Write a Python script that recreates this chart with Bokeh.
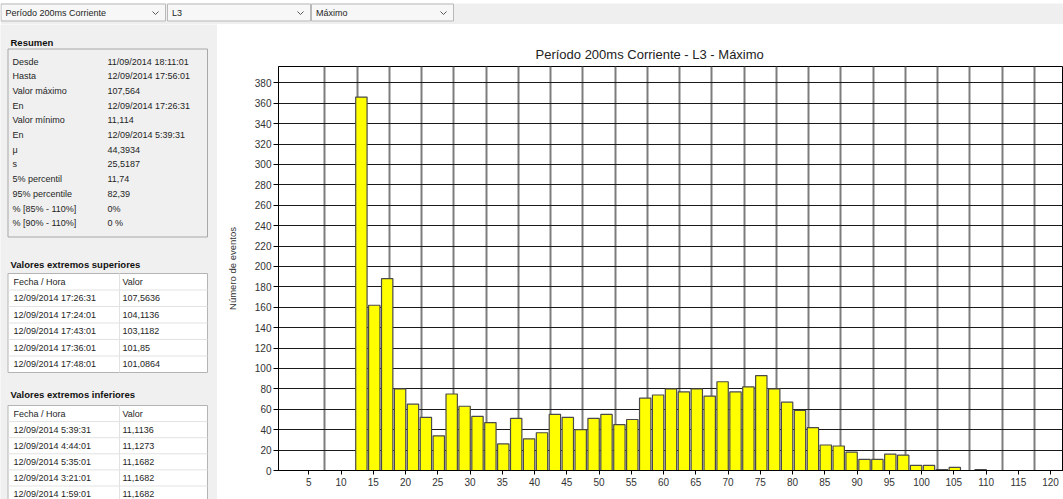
import numpy as np
from bokeh.plotting import figure
from bokeh.models import ColumnDataSource, Range1d, FixedTicker
from bokeh.layouts import column, row
from bokeh.embed import file_html
from bokeh.resources import INLINE
from bokeh.core.properties import value

# ---------------- data ----------------
bin_start = 12.15          # left edge of first histogram bin
bin_width = 2.0
counts = [366, 162, 188, 80, 65, 52, 34, 75, 63, 53, 47, 26, 51, 31, 37, 55, 52,
          40, 51, 55, 45, 50, 71, 74, 80, 77, 80, 73, 87, 77, 82, 93, 80, 67,
          59, 42, 25, 24, 18, 11, 11, 16, 15, 5, 5, 1, 3, 0, 1]
x_ticks = list(range(5, 125, 5))
y_ticks = list(range(0, 400, 20))
title_text = "Período 200ms Corriente  -  L3  -  Máximo"
y_label = "Número de eventos"

dropdown_texts = ["Período 200ms Corriente", "L3", "Máximo"]

summary_title = "Resumen"
summary_labels = ["Desde", "Hasta", "Valor máximo", "En", "Valor mínimo", "En",
                  "μ", "s", "5% percentil", "95% percentile",
                  "% [85% - 110%]", "% [90% - 110%]"]
summary_values = ["11/09/2014 18:11:01", "12/09/2014 17:56:01", "107,564",
                  "12/09/2014 17:26:31", "11,114", "12/09/2014 5:39:31",
                  "44,3934", "25,5187", "11,74", "82,39", "0%", "0 %"]

table_header = ["Fecha / Hora", "Valor"]
sup_title = "Valores extremos superiores"
sup_dates = ["12/09/2014 17:26:31", "12/09/2014 17:24:01", "12/09/2014 17:43:01",
             "12/09/2014 17:36:01", "12/09/2014 17:48:01"]
sup_values = ["107,5636", "104,1136", "103,1182", "101,85", "101,0864"]
inf_title = "Valores extremos inferiores"
inf_dates = ["12/09/2014 5:39:31", "12/09/2014 4:44:01", "12/09/2014 5:35:01",
             "12/09/2014 3:21:01", "12/09/2014 1:59:01"]
inf_values = ["11,1136", "11,1273", "11,1682", "11,1682", "11,1682"]

FONT = value("Liberation Sans")
TXT = "#1e1e1e"

# ---------------- top strip (dropdowns) ----------------
top = figure(width=1063, height=24, x_range=Range1d(0, 1063), y_range=Range1d(24, 0),
             output_backend="svg", toolbar_location=None, frame_align=False,
             x_axis_location=None, y_axis_location=None, min_border=0)
top.grid.visible = False
top.outline_line_color = None
top.background_fill_color = "white"
top.border_fill_color = "white"
top.quad(left=[0], right=[1063], top=[3], bottom=[24], fill_color="#efefef",
         line_color=None)
dd_left = [0.5, 167, 311]
dd_right = [165, 310, 453]
top.quad(left=dd_left, right=dd_right, top=[3.5] * 3, bottom=[20.5] * 3,
         fill_color="#f7f7f7", line_color="#b9b9b9", line_width=1)
top.text(x=[l + 4.5 for l in dd_left], y=[12.3] * 3, text=dropdown_texts,
         text_font=FONT, text_font_size=value("9px"), text_color=TXT,
         text_baseline="middle")
chev_x = [r - 10 for r in dd_right]
top.multi_line(xs=[[c - 3, c, c + 3] for c in chev_x], ys=[[11, 14, 11]] * 3,
               line_color="#555555", line_width=1)

# ---------------- left panel ----------------
panel = figure(width=217, height=475, x_range=Range1d(0, 217), y_range=Range1d(499, 24),
               output_backend="svg", toolbar_location=None, frame_align=False,
               x_axis_location=None, y_axis_location=None, min_border=0)
panel.grid.visible = False
panel.outline_line_color = None
panel.background_fill_color = "#f0f0f0"
panel.border_fill_color = "#f0f0f0"

BOLD = dict(text_font=FONT, text_font_size=value("9.5px"), text_font_style="bold",
            text_color="#111111", text_baseline="middle")
NORM = dict(text_font=FONT, text_font_size=value("9px"), text_color=TXT,
            text_baseline="middle")

# summary
panel.text(x=[10], y=[42], text=[summary_title], **BOLD)
panel.quad(left=[7.5], right=[207], top=[48.5], bottom=[236.5],
           fill_color=None, line_color="#a8a8a8", line_width=1)
row_y = [61 + 14.7 * i for i in range(len(summary_labels))]
panel.text(x=[12] * len(summary_labels), y=row_y, text=summary_labels, **NORM)
panel.text(x=[107] * len(summary_values), y=row_y, text=summary_values, **NORM)


def draw_table(title, title_y, t_top, rh, dates, vals):
    n = len(dates) + 1
    t_bot = t_top + rh * n
    panel.text(x=[10], y=[title_y], text=[title], **BOLD)
    panel.quad(left=[7.5], right=[207], top=[t_top], bottom=[t_bot],
               fill_color="white", line_color="#b4b4b4", line_width=1)
    ys = [t_top + rh * k for k in range(1, n)]
    panel.segment(x0=[7.5] * len(ys), x1=[207] * len(ys), y0=ys, y1=ys,
                  line_color="#e2e2e2", line_width=1)
    panel.segment(x0=[119], x1=[119], y0=[t_top], y1=[t_bot],
                  line_color="#e2e2e2", line_width=1)
    cy = [t_top + rh * (k + 0.5) for k in range(n)]
    panel.text(x=[13] * n, y=cy, text=[table_header[0]] + dates, **NORM)
    panel.text(x=[122] * n, y=cy, text=[table_header[1]] + vals, **NORM)


draw_table(sup_title, 264, 273, 16.5, sup_dates, sup_values)
draw_table(inf_title, 394, 405, 16.1, inf_dates, inf_values)

# ---------------- histogram chart ----------------
centers = bin_start + bin_width * (np.arange(len(counts)) + 0.5)
src = ColumnDataSource(dict(x=centers, top=counts))

p = figure(width=846, height=475, x_range=Range1d(0.3, 122.0), y_range=Range1d(0, 396),
           output_backend="svg", toolbar_location=None, frame_align=False,
           min_border_left=61, min_border_right=0, min_border_top=42, min_border_bottom=29)
p.background_fill_color = "white"
p.border_fill_color = "white"
p.outline_line_color = "#000000"
p.outline_line_width = 1

p.title.text = title_text
p.title.align = "left"
p.title.offset = 257
p.title.text_font = "Liberation Sans"
p.title.text_font_size = "13px"
p.title.text_font_style = "normal"
p.title.text_color = "#222222"
p.title.standoff = 10

p.vbar(x="x", top="top", width=bin_width * 0.88, bottom=0, source=src,
       fill_color="#ffff00", line_color="#4a4a4a", line_width=1.2)

p.ygrid.ticker = FixedTicker(ticks=y_ticks)
p.ygrid.grid_line_color = "#1a1a1a"
p.ygrid.grid_line_width = 1
p.xgrid.ticker = FixedTicker(ticks=list(np.arange(7.5, 120, 5)))
p.xgrid.grid_line_color = "#7d7d7d"
p.xgrid.grid_line_width = 2

for ax in (p.xaxis[0], p.yaxis[0]):
    ax.axis_line_color = "#000000"
    ax.major_tick_line_color = "#000000"
    ax.major_tick_in = 0
    ax.minor_tick_line_color = None
    ax.major_label_text_font = "Liberation Sans"
    ax.major_label_text_font_size = "10px"
    ax.major_label_text_color = "#333333"

p.xaxis.ticker = FixedTicker(ticks=x_ticks)
p.xaxis.major_tick_out = 4
p.xaxis.major_label_standoff = 3
p.yaxis.ticker = FixedTicker(ticks=y_ticks)
p.yaxis.major_tick_out = 5
p.yaxis.major_label_standoff = 2
p.yaxis.axis_label = y_label
p.yaxis.axis_label_text_font = "Liberation Sans"
p.yaxis.axis_label_text_font_size = "9.5px"
p.yaxis.axis_label_text_font_style = "normal"
p.yaxis.axis_label_text_color = "#333333"
p.yaxis.axis_label_standoff = 14

layout = column(top, row(panel, p))
open("out.html", "w").write(file_html(layout, INLINE))
